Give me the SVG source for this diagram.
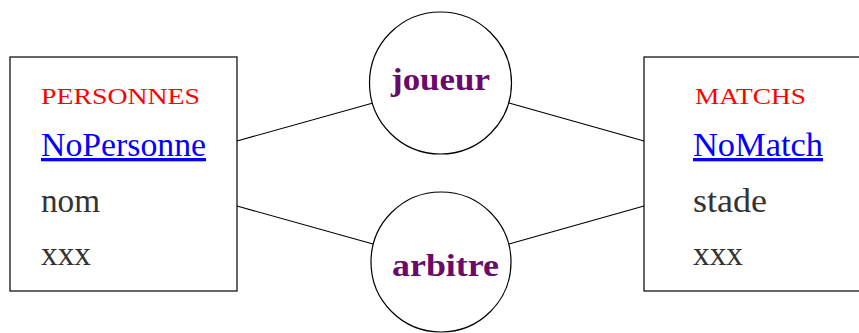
<svg xmlns="http://www.w3.org/2000/svg" width="859" height="333" viewBox="0 0 859 333">
<style>
.box{fill:#fff;stroke:#000;stroke-width:1.2}
.circ{fill:#fff;stroke:#000;stroke-width:1.2}
.edge{stroke:#000;stroke-width:1.2;fill:none}
.title{font-family:"Liberation Serif",serif;font-size:24px;fill:#ff0000}
.key{font-family:"Liberation Serif",serif;font-size:33px;fill:#0000ff;text-decoration:underline}
.attr{font-family:"Liberation Serif",serif;font-size:33px;fill:#333333}
.rel{font-family:"Liberation Serif",serif;font-size:31px;font-weight:bold;fill:#6a0a6a}
</style>
<rect width="859" height="333" fill="#fff"/>
<g id="connectors">
<line class="edge" x1="237" y1="141" x2="373" y2="103"/>
<line class="edge" x1="237" y1="206" x2="373" y2="244"/>
<line class="edge" x1="509" y1="103" x2="644" y2="141"/>
<line class="edge" x1="509" y1="244" x2="644" y2="206"/>
</g>
<g id="personnes">
<rect class="box" x="10" y="57" width="227" height="234"/>
<text class="title" x="41" y="104" textLength="159" lengthAdjust="spacingAndGlyphs">PERSONNES</text>
<text class="key" x="41" y="156" textLength="165" lengthAdjust="spacingAndGlyphs">NoPersonne</text>
<text class="attr" x="41" y="211.5" textLength="59" lengthAdjust="spacingAndGlyphs">nom</text>
<text class="attr" x="41" y="265" textLength="50" lengthAdjust="spacingAndGlyphs">xxx</text>
</g>
<g id="joueur">
<circle class="circ" cx="440.5" cy="83" r="71"/>
<text class="rel" x="391" y="89.5" textLength="99" lengthAdjust="spacingAndGlyphs">joueur</text>
</g>
<g id="arbitre">
<circle class="circ" cx="441" cy="262" r="70"/>
<text class="rel" x="392" y="275.5" textLength="107" lengthAdjust="spacingAndGlyphs">arbitre</text>
</g>
<g id="matchs">
<rect class="box" x="644" y="57" width="240" height="234"/>
<text class="title" x="695" y="104" textLength="111" lengthAdjust="spacingAndGlyphs">MATCHS</text>
<text class="key" x="693" y="156" textLength="130" lengthAdjust="spacingAndGlyphs">NoMatch</text>
<text class="attr" x="693" y="211.5" textLength="74" lengthAdjust="spacingAndGlyphs">stade</text>
<text class="attr" x="693" y="265" textLength="50" lengthAdjust="spacingAndGlyphs">xxx</text>
</g>
</svg>
